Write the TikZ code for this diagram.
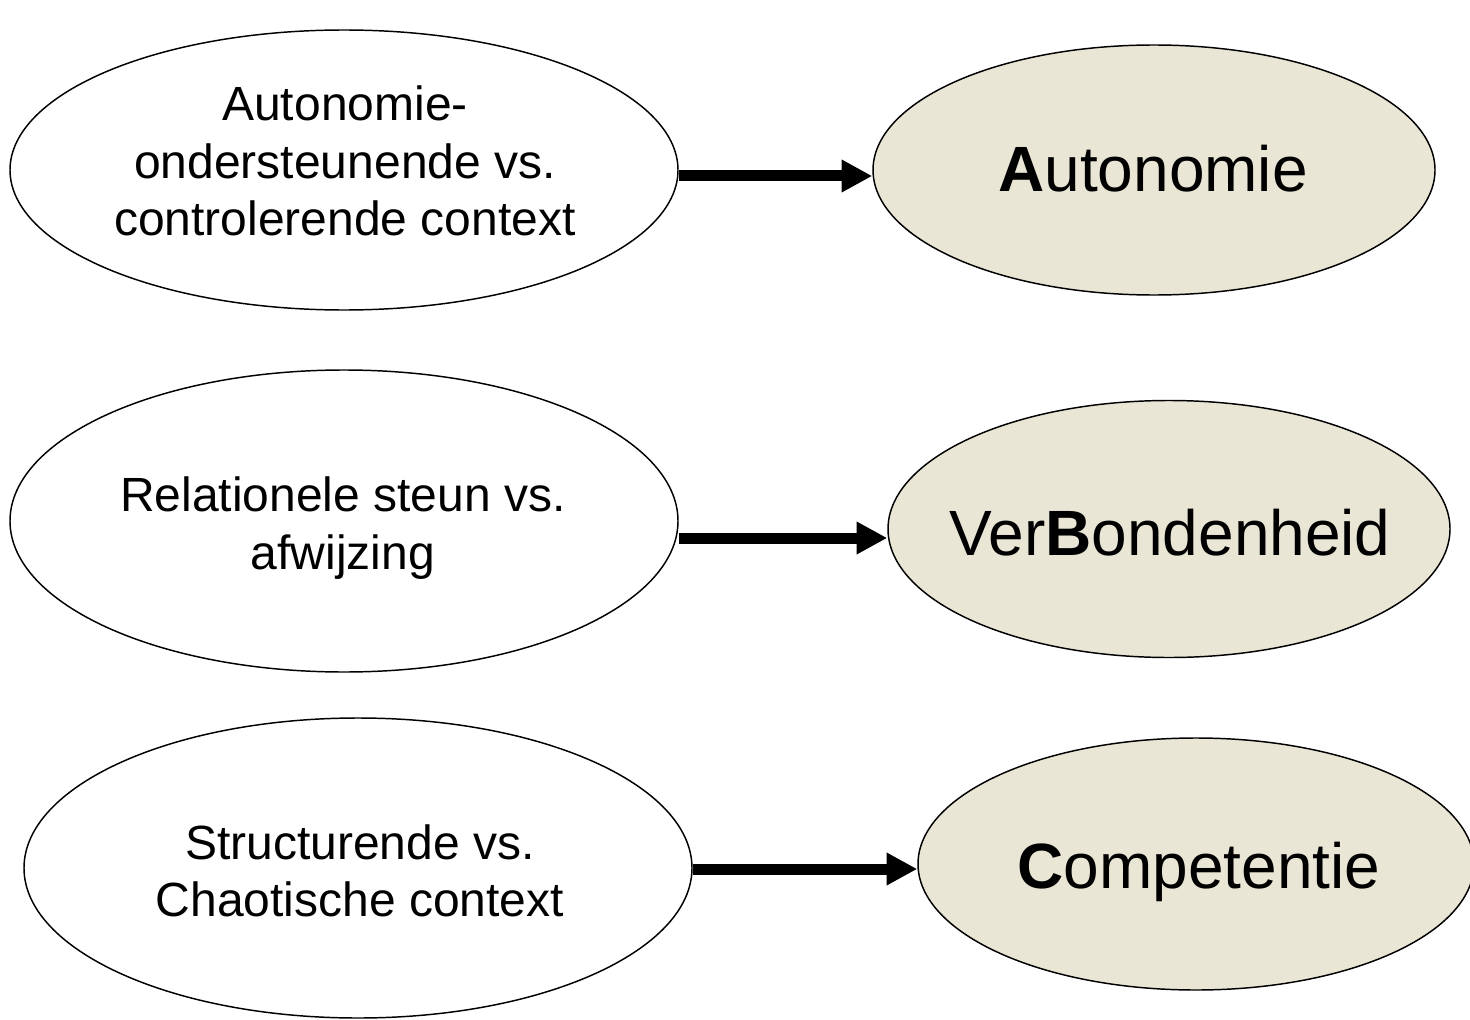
\documentclass[tikz,border=0pt]{standalone}
\usepackage{fontspec}
\setmainfont{Liberation Sans}
\usetikzlibrary{shapes.geometric,arrows.meta,calc}
\definecolor{needfill}{RGB}{234,230,214}
\begin{document}
\begin{tikzpicture}[x=0.75pt,y=-0.75pt,
  ctx/.style={draw=black,line width=1.1pt,ellipse,inner sep=0pt,fill=white},
  need/.style={draw=black,line width=1.1pt,ellipse,inner sep=0pt,fill=needfill},
  ctxtext/.style={align=center,font=\fontsize{36}{43}\selectfont,inner sep=0pt},
  needtext/.style={font=\fontsize{48}{58}\selectfont,inner sep=0pt,anchor=base},
  arr/.style={line width=8.25pt,-{Triangle[length=23pt,width=23pt]}}]
\useasboundingbox (0,0) rectangle (1470,1020);
\clip (0,0) rectangle (1470,1020);
\fill[white] (0,0) rectangle (1470,1020);
% context ellipses
\node[ctx,minimum width=501pt,minimum height=210pt] (e1) at (344,170) {};
\node[ctx,minimum width=501pt,minimum height=226.5pt] (e3) at (344,521) {};
\node[ctx,minimum width=501pt,minimum height=225pt] (e5) at (358,868) {};
% need ellipses
\node[need,minimum width=421.5pt,minimum height=187.5pt] (e2) at (1154,170) {};
\node[need,minimum width=421.5pt,minimum height=192.75pt] (e4) at (1169,529) {};
\node[need,minimum width=417pt,minimum height=189pt] (e6) at (1196,864) {};
% texts
\node[ctxtext] (t1) at (345,161) {Autonomie-\\ondersteunende vs.\\controlerende context};
\node[ctxtext] (t3) at (343,528) {Relationele steun vs.\\afwijzing};
\node[ctxtext] (t5) at (360,871) {Structurende vs.\\Chaotische context};
\node[needtext] (t2) at (1153,191) {\textbf{A}utonomie};
\node[needtext] (t4) at (1170,555) {Ver\textbf{B}ondenheid};
\node[needtext] (t6) at (1199,888) {\textbf{C}ompetentie};
% arrows
\draw[arr] ($(e1.east)+(0,6)$) -- ($(e2.west)+(0,6)$);
\draw[arr] ($(e3.east)+(0,17)$) -- ($(e4.west)+(0,9)$);
\draw[arr] ($(e5.east)+(0,1)$) -- ($(e6.west)+(0,5)$);
\end{tikzpicture}
\end{document}
